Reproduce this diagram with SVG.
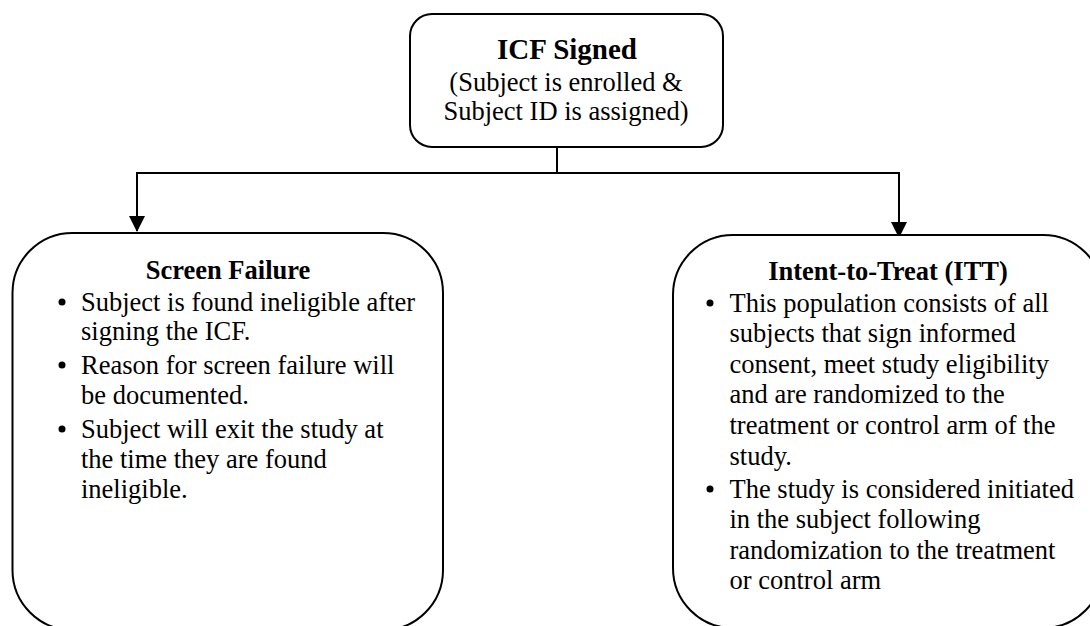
<svg xmlns="http://www.w3.org/2000/svg" width="1090" height="626" viewBox="0 0 1090 626">
  <style>
    .box { fill: #ffffff; stroke: #000000; stroke-width: 2; }
    .conn { fill: none; stroke: #000000; stroke-width: 2; }
    text { font-family: "Liberation Serif", "Times New Roman", serif; fill: #000000; }
    .title { font-weight: bold; font-size: 26.5px; text-anchor: middle; }
    .big { font-weight: bold; font-size: 29px; text-anchor: middle; }
    .sub { font-size: 26.5px; text-anchor: middle; }
    .body { font-size: 26.5px; }
    .bullet { fill: #000000; }
  </style>
  <defs>
    <marker id="arrow" markerUnits="userSpaceOnUse" markerWidth="16" markerHeight="16" refX="15" refY="8" orient="auto">
      <path d="M0,0 L16,8 L0,16 z" fill="#000000"/>
    </marker>
  </defs>

  <g id="connectors">
    <path class="conn" d="M557 147 V173 H137 V231" marker-end="url(#arrow)"/>
    <path class="conn" d="M557 173 H899 V237" marker-end="url(#arrow)"/>
  </g>

  <g id="node-icf">
    <rect class="box" x="410" y="14" width="313" height="133" rx="22" ry="22"/>
    <text class="big" x="567" y="59">ICF Signed</text>
    <text class="sub" x="566" y="90.5">(Subject is enrolled &amp;</text>
    <text class="sub" x="566" y="120">Subject ID is assigned)</text>
  </g>

  <g id="node-screen-failure">
    <rect class="box" x="12.5" y="233" width="430.5" height="397" rx="60" ry="60"/>
    <text class="title" x="228" y="279">Screen Failure</text>
    <circle class="bullet" cx="62" cy="302" r="3.5"/>
    <text class="body" x="81" y="311">Subject is found ineligible after</text>
    <text class="body" x="81" y="340">signing the ICF.</text>
    <circle class="bullet" cx="62" cy="365" r="3.5"/>
    <text class="body" x="81" y="374">Reason for screen failure will</text>
    <text class="body" x="81" y="404">be documented.</text>
    <circle class="bullet" cx="62" cy="429" r="3.5"/>
    <text class="body" x="81" y="438">Subject will exit the study at</text>
    <text class="body" x="81" y="468">the time they are found</text>
    <text class="body" x="81" y="498">ineligible.</text>
  </g>

  <g id="node-itt">
    <rect class="box" x="673" y="235" width="430" height="393" rx="60" ry="60"/>
    <text class="title" x="888" y="280">Intent-to-Treat (ITT)</text>
    <circle class="bullet" cx="710" cy="303" r="3.5"/>
    <text class="body" x="729.5" y="312">This population consists of all</text>
    <text class="body" x="729.5" y="342">subjects that sign informed</text>
    <text class="body" x="729.5" y="373">consent, meet study eligibility</text>
    <text class="body" x="729.5" y="403">and are randomized to the</text>
    <text class="body" x="729.5" y="434">treatment or control arm of the</text>
    <text class="body" x="729.5" y="465">study.</text>
    <circle class="bullet" cx="710" cy="489" r="3.5"/>
    <text class="body" x="729.5" y="498">The study is considered initiated</text>
    <text class="body" x="729.5" y="528">in the subject following</text>
    <text class="body" x="729.5" y="559">randomization to the treatment</text>
    <text class="body" x="729.5" y="589">or control arm</text>
  </g>
</svg>
